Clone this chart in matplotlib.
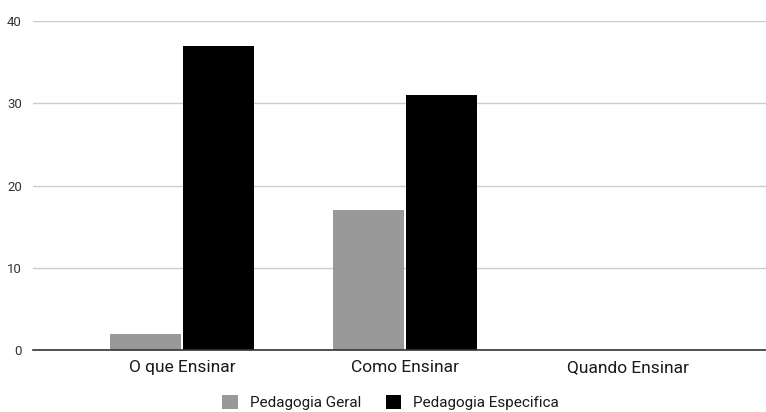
import numpy as np
import matplotlib.pyplot as plt

plt.rcParams['font.family'] = ['Roboto', 'DejaVu Sans']

categories = ['O que Ensinar', 'Como Ensinar', 'Quando Ensinar']
pedagogia_geral = [2, 17, 0]
pedagogia_especifica = [37, 31, 0]

fig = plt.figure(figsize=(7.66, 4.12), dpi=100)
ax = fig.add_axes([0.043, 0.150, 0.957, 0.799])

x = np.arange(len(categories))
w = 0.318
gap = 0.005
ax.bar(x - w / 2 - gap, pedagogia_geral, w, color='#999999', label='Pedagogia Geral', zorder=3)
ax.bar(x + w / 2 + gap, pedagogia_especifica, w, color='#000000', label='Pedagogia Especifica', zorder=3)

ax.set_xlim(-0.668, 2.619)
ax.set_ylim(0, 40)
ax.set_yticks([0, 10, 20, 30, 40])
ax.set_xticks(x)
ax.set_xticklabels(categories, fontsize=12.5, color='#1a1a1a')
ax.tick_params(axis='x', length=0, pad=7)
ax.tick_params(axis='y', length=0, pad=8, labelsize=9.5, labelcolor='#333333')

ax.grid(axis='y', color='#cccccc', linewidth=1, zorder=0)
for s in ['top', 'right', 'left']:
    ax.spines[s].set_visible(False)
ax.spines['bottom'].set_color('#333333')
ax.spines['bottom'].set_linewidth(1.2)
ax.spines['bottom'].set_zorder(4)

fig.legend(loc='center', bbox_to_anchor=(0.51, 0.022), ncol=2, frameon=False,
           fontsize=11, handlelength=1.0, handleheight=1.0, columnspacing=1.6,
           handletextpad=0.8, labelcolor='#1a1a1a')

fig.savefig('out.png', dpi=100)
